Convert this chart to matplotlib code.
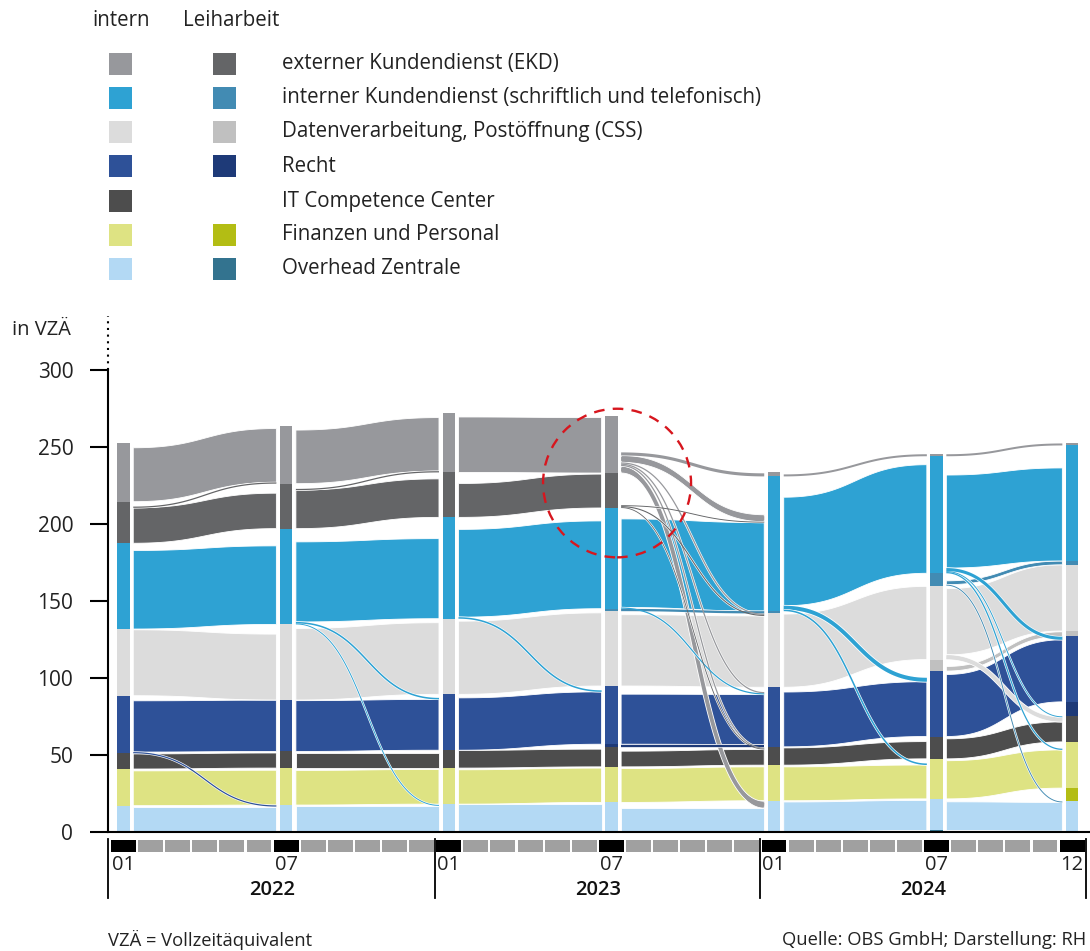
import numpy as np
import matplotlib.pyplot as plt
from matplotlib.patches import Rectangle, Ellipse

plt.rcParams['font.family'] = ['Open Sans', 'DejaVu Sans']

W, H = 1090, 951

# categories, stacked from bottom to top (intern / Leiharbeit)
cats = ["OH_L", "OH_I", "FP_L", "FP_I", "IT", "R_L", "R_I",
        "CSS_L", "CSS_I", "IKD_L", "IKD_I", "EKD_L", "EKD_I"]
colors = {
    "OH_L": "#33738f", "OH_I": "#b3d9f4",
    "FP_L": "#b3bd14", "FP_I": "#dee383",
    "IT": "#4d4d4d",
    "R_L": "#1e3a78", "R_I": "#2e5198",
    "CSS_L": "#c0c0c0", "CSS_I": "#dcdcdc",
    "IKD_L": "#428bb3", "IKD_I": "#2ea2d3",
    "EKD_L": "#646567", "EKD_I": "#97989c",
}
idx = {c: i for i, c in enumerate(cats)}

# time points (month index from 01/2022)
months = [0, 6, 12, 18, 24, 30, 35]

# VZÄ per category at each time point (order as cats)
v_2201 = [0, 17.1, 0, 23.8, 10.2, 0, 37.4, 0, 43.3, 0, 55.7, 27.0, 38.3]
v_2207 = [0, 17.5, 0, 24.0, 10.8, 0, 33.4, 0, 49.1, 0, 62.2, 29.2, 37.6]
v_2301 = [0, 18.1, 0, 23.4, 11.6, 0, 36.3, 0, 49.1, 0, 65.8, 29.2, 38.9]
v_2307 = [0, 19.2, 0, 23.1, 13.0, 1.7, 37.8, 0, 48.6, 1.6, 65.4, 22.7, 37.2]
v_2401 = [0, 20.3, 0, 23.1, 11.9, 0, 38.7, 0, 47.9, 1.5, 87.5, 0, 2.6]
v_2407 = [1.0, 20.5, 0, 26.0, 14.5, 0, 42.5, 7.5, 48.0, 8.0, 76.0, 0, 1.5]
v_2412 = [0.6, 19.4, 8.5, 30.0, 17.0, 9.0, 42.5, 3.5, 43.0, 2.5, 75.0, 0, 1.5]
nodes = [v_2201, v_2207, v_2301, v_2307, v_2401, v_2407, v_2412]

# flows between consecutive time points (source, target, VZÄ)
f_2201_2207 = [("OH_I", "OH_I", 16.5), ("R_I", "OH_I", 0.8), ("FP_I", "FP_I", 22.6),
               ("IT", "IT", 9.8), ("R_I", "R_I", 33.3), ("CSS_I", "CSS_I", 42.8),
               ("IKD_I", "IKD_I", 51.0), ("EKD_L", "EKD_L", 23.0),
               ("EKD_L", "EKD_I", 0.8), ("EKD_I", "EKD_I", 35.0)]
f_2207_2301 = [("OH_I", "OH_I", 17.0), ("IKD_I", "OH_I", 0.6), ("FP_I", "FP_I", 22.5),
               ("IT", "IT", 10.0), ("R_I", "R_I", 33.0), ("IKD_I", "R_I", 1.0),
               ("CSS_I", "CSS_I", 46.5), ("IKD_I", "IKD_I", 52.0),
               ("EKD_L", "EKD_L", 25.0), ("EKD_L", "EKD_I", 0.8), ("EKD_I", "EKD_I", 34.8)]
f_2301_2307 = [("OH_I", "OH_I", 18.0), ("FP_I", "FP_I", 22.3), ("IT", "IT", 11.5),
               ("R_I", "R_I", 34.0), ("IKD_I", "R_I", 1.0), ("CSS_I", "CSS_I", 47.5),
               ("IKD_I", "IKD_I", 57.0), ("EKD_L", "EKD_L", 22.0), ("EKD_I", "EKD_I", 36.0)]
f_2307_2401 = [("OH_I", "OH_I", 15.5), ("EKD_I", "OH_I", 4.5), ("FP_I", "FP_I", 22.0),
               ("IT", "IT", 10.2), ("EKD_L", "IT", 0.5), ("EKD_I", "IT", 0.8),
               ("R_L", "R_I", 1.5), ("R_I", "R_I", 32.5), ("IKD_I", "R_I", 0.8),
               ("EKD_I", "R_I", 0.8), ("CSS_I", "CSS_I", 46.3), ("EKD_L", "CSS_I", 0.7),
               ("EKD_I", "CSS_I", 0.8), ("IKD_L", "IKD_L", 1.5), ("IKD_I", "IKD_I", 57.5),
               ("EKD_L", "IKD_I", 0.6), ("EKD_I", "IKD_I", 4.5), ("EKD_I", "EKD_I", 2.0)]
f_2401_2407 = [("OH_I", "OH_I", 19.5), ("FP_I", "FP_I", 22.0), ("IKD_I", "FP_I", 1.0),
               ("IT", "IT", 11.2), ("R_I", "R_I", 35.6), ("IKD_I", "R_I", 2.5),
               ("CSS_I", "CSS_I", 47.5), ("IKD_I", "IKD_I", 70.5), ("EKD_I", "EKD_I", 1.3)]
f_2407_2412 = [("OH_L", "OH_L", 0.6), ("OH_I", "OH_I", 18.6), ("IKD_L", "OH_I", 0.6),
               ("FP_I", "FP_I", 24.8), ("IKD_I", "FP_I", 0.8), ("IT", "IT", 13.0),
               ("CSS_I", "IT", 3.0), ("IKD_I", "IT", 0.6), ("R_I", "R_I", 40.3),
               ("IKD_I", "R_I", 2.0), ("CSS_L", "CSS_L", 3.0), ("CSS_I", "CSS_I", 43.0),
               ("IKD_L", "IKD_L", 2.5), ("IKD_I", "IKD_I", 60.4), ("EKD_I", "EKD_I", 1.3)]
segments = [f_2201_2207, f_2207_2301, f_2301_2307, f_2307_2401, f_2401_2407, f_2407_2412]

legend_labels = ["externer Kundendienst (EKD)",
                 "interner Kundendienst (schriftlich und telefonisch)",
                 "Datenverarbeitung, Postöffnung (CSS)", "Recht", "IT Competence Center",
                 "Finanzen und Personal", "Overhead Zentrale"]
legend_intern = ["EKD_I", "IKD_I", "CSS_I", "R_I", "IT", "FP_I", "OH_I"]
legend_leih = ["EKD_L", "IKD_L", "CSS_L", "R_L", None, "FP_L", "OH_L"]

tick_months = [0, 6, 12, 18, 24, 30, 35]
tick_labels = ["01", "07", "01", "07", "01", "07", "12"]
years = ["2022", "2023", "2024"]

TXT = "#222222"

fig = plt.figure(figsize=(W / 100, H / 100), dpi=100)
ax = fig.add_axes([108 / W, 119 / H, 982 / W, 462 / H])
ax.set_xlim(-0.572, 35.66)
ax.set_ylim(0, 300)

HW = 0.23    # half bar width (months)
GAP = 0.36   # bar centre to flow start
PXU = 462 / 300  # pixels per VZÄ

# bars
bottoms = []
for m, vals in zip(months, nodes):
    b = np.concatenate([[0], np.cumsum(vals)[:-1]])
    bottoms.append(b)
    for i, c in enumerate(cats):
        if vals[i] > 0:
            ax.add_patch(Rectangle((m - HW, b[i]), 2 * HW, vals[i], color=colors[c],
                                   lw=0, zorder=3))

t = np.linspace(0, 1, 100)
xs_shape = 1.5 * t * (1 - t) + t ** 3
ys_shape = 3 * t ** 2 - 2 * t ** 3

for k, flows in enumerate(segments):
    x0, x1 = months[k] + GAP, months[k + 1] - GAP
    xs = x0 + (x1 - x0) * xs_shape
    out_pos = list(bottoms[k])
    in_pos = list(bottoms[k + 1])
    # layout: outgoing sorted by target, incoming sorted by source
    src_y, tgt_y = {}, {}
    for j, (s, g, v) in sorted(enumerate(flows), key=lambda e: (idx[e[1][0]], idx[e[1][1]])):
        src_y[j] = out_pos[idx[s]]
        out_pos[idx[s]] += v
    for j, (s, g, v) in sorted(enumerate(flows), key=lambda e: (idx[e[1][1]], idx[e[1][0]])):
        tgt_y[j] = in_pos[idx[g]]
        in_pos[idx[g]] += v
    big = [(j, f) for j, f in enumerate(flows) if f[2] >= 2.5]
    small = [(j, f) for j, f in enumerate(flows) if f[2] < 2.5]
    for j, (s, g, v) in sorted(big, key=lambda e: e[1][0] != e[1][1]):
        yb = src_y[j] + (tgt_y[j] - src_y[j]) * ys_shape
        z = 2 if s == g else 2.3
        if s != g:
            # keep a visible width in the steep part
            ax.plot(xs, yb + v / 2, color="white", lw=4.0, solid_capstyle="butt",
                    zorder=z)
        ax.fill(np.concatenate([xs, xs[::-1]]), np.concatenate([yb, (yb + v)[::-1]]),
                facecolor=colors[s], edgecolor="white", lw=0.6, zorder=z)
        if s != g:
            ax.plot(xs, yb + v / 2, color=colors[s], lw=2.8, solid_capstyle="butt",
                    zorder=z)
    for j, (s, g, v) in sorted(small, key=lambda e: -e[1][2]):
        yc = src_y[j] + v / 2 + (tgt_y[j] - src_y[j]) * ys_shape
        w = max(v * PXU * 0.72, 0.6)
        ax.plot(xs, yc, color="white", lw=w + 0.9, solid_capstyle="butt", zorder=2.4)
        ax.plot(xs, yc, color=colors[s], lw=w, solid_capstyle="butt", zorder=2.5)

# axes styling
for sp in ["top", "right"]:
    ax.spines[sp].set_visible(False)
ax.spines["left"].set_linewidth(1.5)
ax.spines["bottom"].set_linewidth(1.5)
ax.spines["bottom"].set_zorder(4)
ax.set_xticks([])
ax.set_yticks([0, 50, 100, 150, 200, 250, 300])
ax.tick_params(axis="y", length=13, width=1.5, pad=12, labelsize=15, labelcolor=TXT)
ax.plot([-0.572, -0.572], [300, 335], color="black", lw=1.5, ls=(0, (1, 2.2)), clip_on=False)
fig.text(12 / W, 1 - 330 / H, "in VZÄ", fontsize=14.5, va="center", ha="left", color=TXT)

# month blocks and labels below the axis
for mo in range(36):
    col = "black" if mo in tick_months else "#a0a0a0"
    ax.add_patch(Rectangle((mo - 0.5 + 0.04, -13.2), 0.92, 8.0, color=col, lw=0,
                           clip_on=False))
for sx in [-0.572, 11.5, 23.5, 35.5]:
    ax.plot([sx, sx], [-4.5, -43], color="black", lw=1.3, clip_on=False)
for mo, lab in zip(tick_months, tick_labels):
    ax.text(mo, -21.5, lab, ha="center", va="center", fontsize=14.5, color=TXT,
            clip_on=False)
for i, yr in enumerate(years):
    ax.text(12 * i + 5.5, -37.5, yr, ha="center", va="center", fontsize=14.5,
            fontweight="semibold", color="#111111", clip_on=False)

# red dashed circle around the EKD dissolution
ax.add_patch(Ellipse((18.21, 226.6), 5.46, 96.5, fill=False, edgecolor="#d7161e",
                     lw=1.7, ls=(0, (4.5, 3.5)), zorder=6, clip_on=False))

# legend
fig.text(92 / W, 1 - 20 / H, "intern", fontsize=14.8, va="center", color=TXT)
fig.text(183 / W, 1 - 20 / H, "Leiharbeit", fontsize=14.8, va="center", color=TXT)
rows_y = [64, 98, 132, 166, 201, 235, 269]
for y, lab, ci, cl in zip(rows_y, legend_labels, legend_intern, legend_leih):
    fig.add_artist(Rectangle((109 / W, 1 - (y + 11) / H), 23 / W, 22 / H,
                             color=colors[ci], transform=fig.transFigure, lw=0))
    if cl is not None:
        fig.add_artist(Rectangle((213 / W, 1 - (y + 11) / H), 23 / W, 22 / H,
                                 color=colors[cl], transform=fig.transFigure, lw=0))
    fig.text(282 / W, 1 - y / H, lab, fontsize=14.8, va="center", color=TXT)

fig.text(108 / W, 1 - 940 / H, "VZÄ = Vollzeitäquivalent", fontsize=13.2, va="center",
         color=TXT)
fig.text(1086 / W, 1 - 940 / H, "Quelle: OBS GmbH; Darstellung: RH", fontsize=13.2,
         va="center", ha="right", color=TXT)

fig.savefig("out.png", dpi=100)
